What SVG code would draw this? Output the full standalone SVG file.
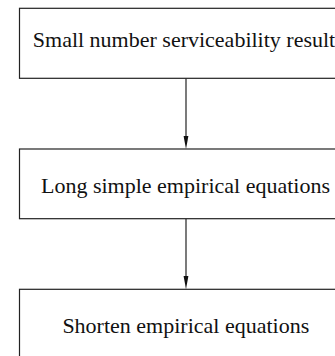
<svg xmlns="http://www.w3.org/2000/svg" width="335" height="356" viewBox="0 0 335 356">
  <style>
    .box { fill: #ffffff; stroke: #222222; stroke-width: 1.2; }
    .lbl { font-family: "Liberation Serif", "Times New Roman", serif; font-size: 22px; fill: #111111; text-anchor: middle; }
    .conn { stroke: #222222; stroke-width: 1.2; fill: none; }
    .head { fill: #111111; }
  </style>
  <rect width="335" height="356" fill="#ffffff"/>
  <g id="connectors">
    <line class="conn" x1="186" y1="78.3" x2="186" y2="140"/>
    <polygon class="head" points="183.6,136 188.4,136 186,149"/>
    <line class="conn" x1="186" y1="218.7" x2="186" y2="280"/>
    <polygon class="head" points="183.6,276 188.4,276 186,289.3"/>
  </g>
  <g id="node1">
    <rect class="box" x="19.5" y="8.3" width="333" height="70"/>
    <text class="lbl" x="184" y="46.7">Small number serviceability result</text>
  </g>
  <g id="node2">
    <rect class="box" x="19.5" y="149" width="333" height="69.7"/>
    <text class="lbl" x="185.5" y="193.3">Long simple empirical equations</text>
  </g>
  <g id="node3">
    <rect class="box" x="19.5" y="289.3" width="333" height="70"/>
    <text class="lbl" x="185.8" y="332.7">Shorten empirical equations</text>
  </g>
</svg>
